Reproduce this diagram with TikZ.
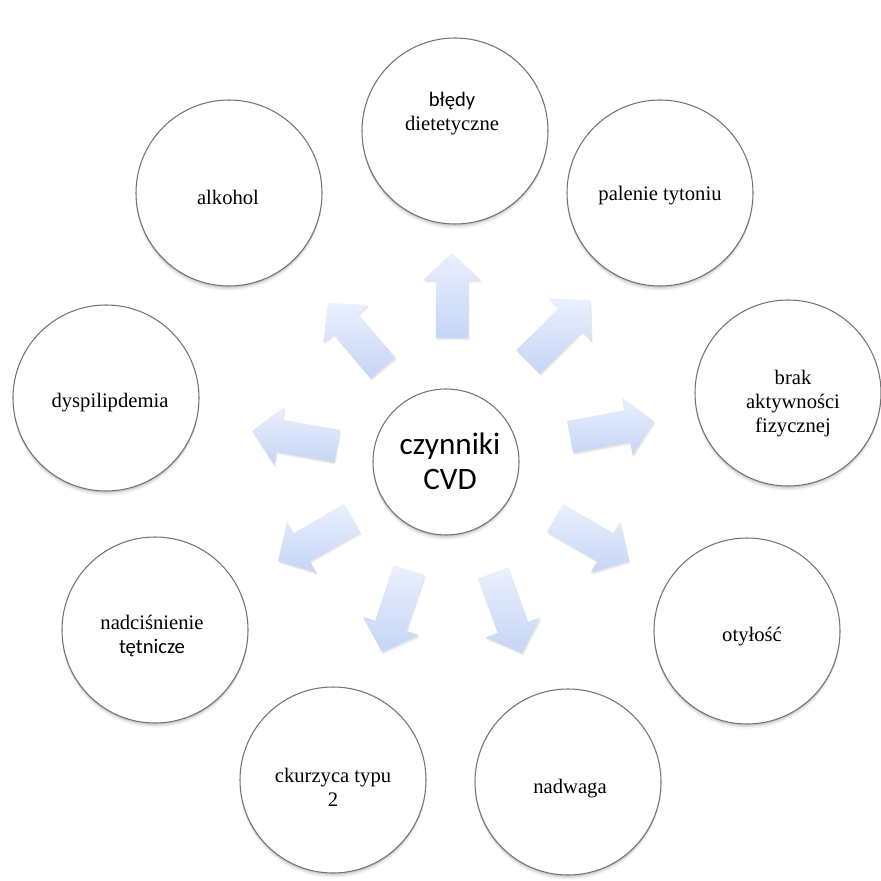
\documentclass[tikz,border=0pt]{standalone}
\usepackage{fontspec}
\setmainfont{Liberation Serif}
\newfontfamily\calfont{Carlito}
\usetikzlibrary{calc}
\definecolor{arrlight}{RGB}{234,240,253}
\definecolor{arrdark}{RGB}{197,213,246}
\definecolor{ringgray}{RGB}{115,115,115}
\tikzset{
 softshadow/.style={
   preaction={fill=black, opacity=0.05, transform canvas={yshift=-4pt}},
   preaction={fill=black, opacity=0.07, transform canvas={yshift=-2.6pt}},
   preaction={fill=black, opacity=0.09, transform canvas={yshift=-1.4pt}}},
 factor/.style={circle, draw=ringgray, line width=0.9pt, fill=white, minimum size=186*0.03cm, inner sep=0pt, softshadow},
 hub/.style={factor, minimum size=146*0.03cm},
 lbl/.style={align=center, font=\fontsize{17.6}{20.5}\selectfont},
 hublbl/.style={align=center, font=\calfont\fontsize{26.6}{30}\selectfont},
 arrowfill/.style={top color=arrlight, bottom color=arrdark, draw=none,
   preaction={fill=black, opacity=0.06, transform canvas={xshift=1.2pt, yshift=-2pt}},
   preaction={fill=black, opacity=0.06, transform canvas={xshift=0.6pt, yshift=-1pt}}},
}
\newcommand\radarrow[2]{%
 \path[arrowfill] ($(#1)!0.19!90:(#2)$) -- ($(#1)!0.68!(#2)!0.59!90:(#2)$) -- ($(#1)!0.68!(#2)!1.07!90:(#2)$) -- (#2)
   -- ($(#1)!0.68!(#2)!1.07!-90:(#2)$) -- ($(#1)!0.68!(#2)!0.59!-90:(#2)$) -- ($(#1)!0.19!-90:(#2)$) -- cycle;}
\begin{document}
\begin{tikzpicture}[x=0.03cm, y=-0.03cm]
\useasboundingbox (0,0) rectangle (881,881);
% arrows: tail / tip
\coordinate (a1t) at (452,338); \coordinate (a1h) at (452,253);
\coordinate (a2t) at (528,362); \coordinate (a2h) at (590,300);
\coordinate (a3t) at (570,437); \coordinate (a3h) at (654,421);
\coordinate (a4t) at (555,518); \coordinate (a4h) at (629,561);
\coordinate (a5t) at (493,573); \coordinate (a5h) at (522,653);
\coordinate (a6t) at (409,570); \coordinate (a6h) at (382,652);
\coordinate (a7t) at (352,518); \coordinate (a7h) at (278,561);
\coordinate (a8t) at (337,446); \coordinate (a8h) at (252,431);
\coordinate (a9t) at (383,368); \coordinate (a9h) at (328,303);
\foreach \i in {1,...,9} {\radarrow{a\i t}{a\i h}}
% circles
\node[hub] (hub) at (446,462) {};
\node[hublbl] (hubt) at (450,461) {czynniki\\CVD};
\node[factor] (c1) at (455,131) {};
\node[lbl] (t1) at (452,114) {{\calfont błędy}\\dietetyczne};
\node[factor] (c2) at (660,193) {};
\node[lbl] (t2) at (660,196) {palenie tytoniu};
\node[factor] (c3) at (788,393) {};
\node[lbl] (t3) at (793,404) {brak\\aktywności\\fizycznej};
\node[factor] (c4) at (747,631) {};
\node[lbl] (t4) at (752,637) {otyłość};
\node[factor] (c5) at (568,782) {};
\node[lbl] (t5) at (570,789) {nadwaga};
\node[factor] (c6) at (333,780) {};
\node[lbl] (t6) at (333,787) {ckurzyca typu\\2};
\node[factor] (c7) at (155,630) {};
\node[lbl] (t7) at (152,636) {nadciśnienie\\{\calfont tętnicze}};
\node[factor] (c8) at (106,398) {};
\node[lbl] (t8) at (110,403) {dyspilipdemia};
\node[factor] (c9) at (229,193) {};
\node[lbl] (t9) at (228,197) {alkohol};
\end{tikzpicture}
\end{document}
